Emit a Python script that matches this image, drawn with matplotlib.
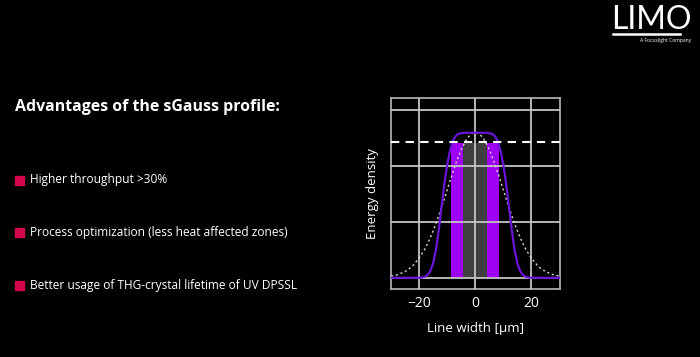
import matplotlib.pyplot as plt
from matplotlib.lines import Line2D
from matplotlib.patches import Rectangle

plt.rcParams['font.family'] = ['Open Sans', 'DejaVu Sans']

# profile data (x in um, y in grid units)
x_pos = list(range(-30, 31))
sgauss = [0, 0, 0, 0, 0, 0, 0, 0, 0, 0,
          0, 0.005, 0.02, 0.05, 0.12, 0.26, 0.50, 0.86, 1.27, 1.68,
          2.02, 2.27, 2.44, 2.53, 2.57, 2.58, 2.59, 2.59, 2.59, 2.59,
          2.59,
          2.59, 2.59, 2.59, 2.59, 2.58, 2.57, 2.53, 2.44, 2.27, 2.02,
          1.68, 1.27, 0.86, 0.50, 0.26, 0.12, 0.05, 0.02, 0.005, 0,
          0, 0, 0, 0, 0, 0, 0, 0, 0, 0]
gauss = [0.03, 0.04, 0.05, 0.07, 0.09, 0.11, 0.15, 0.18, 0.23, 0.29,
         0.35, 0.43, 0.51, 0.61, 0.72, 0.84, 0.97, 1.11, 1.26, 1.41,
         1.57, 1.73, 1.88, 2.03, 2.16, 2.29, 2.39, 2.48, 2.54, 2.58,
         2.59,
         2.58, 2.54, 2.48, 2.39, 2.29, 2.16, 2.03, 1.88, 1.73, 1.57,
         1.41, 1.26, 1.11, 0.97, 0.84, 0.72, 0.61, 0.51, 0.43, 0.35,
         0.29, 0.23, 0.18, 0.15, 0.11, 0.09, 0.07, 0.05, 0.04, 0.03]
threshold = 2.40
purple_band = (-8.7, 8.6)
gray_band = (-4.5, 4.1)
x_ticks = [-20, 0, 20]
y_grid = [0, 1, 2, 3]

bullets = ["Higher throughput >30%",
           "Process optimization (less heat affected zones)",
           "Better usage of THG-crystal lifetime of UV DPSSL"]

fig = plt.figure(figsize=(7, 3.57), dpi=100, facecolor='black')

# left text block
fig.text(15 / 700, 1 - 107 / 357, "Advantages of the sGauss profile:",
         color='white', fontsize=11.4, fontweight='bold', va='center')
for i, b in enumerate(bullets):
    yy = 1 - (180 + i * 52.5) / 357
    fig.add_artist(Rectangle((15 / 700, yy - 4.5 / 357), 9 / 700, 9 / 357,
                             transform=fig.transFigure, color='#d4064a'))
    fig.text(30 / 700, yy, b, color='white', fontsize=8.6, va='center')

# logo
fig.text(611 / 700, 1 - 20 / 357, "LIMO", color='white', fontsize=23,
         fontweight='normal', va='center', family=['Lato', 'DejaVu Sans'])
fig.add_artist(Line2D([613 / 700, 680 / 700], [1 - 34 / 357] * 2,
                      transform=fig.transFigure, color='white', lw=1.8))
fig.text(691 / 700, 1 - 40.5 / 357, "A Focuslight Company", color='white',
         fontsize=3.6, ha='right', va='center')

ax = fig.add_axes([390.5 / 700, 1 - 289 / 357, 169.5 / 700, 191 / 357])
ax.set_facecolor('black')
ax.set_xlim(-30.2, 30.2)
ax.set_ylim(-0.2, 3.21)

ax.bar((purple_band[0] + purple_band[1]) / 2, threshold,
       width=purple_band[1] - purple_band[0], color='#9d00f5', zorder=1)
ax.bar((gray_band[0] + gray_band[1]) / 2, threshold,
       width=gray_band[1] - gray_band[0], color='#3f3f3f', zorder=1.5)

ax.set_xticks(x_ticks)
ax.set_yticks(y_grid)
ax.set_yticklabels([])
ax.grid(True, color='#c4c4c4', lw=1.3, zorder=2)
ax.set_axisbelow(False)
ax.tick_params(length=0, colors='white', labelsize=10, pad=5)
for s in ax.spines.values():
    s.set_color('#aaaaaa')
    s.set_linewidth(1.3)

ax.plot(x_pos, gauss, color='#d8d8d8', lw=1.0, ls=(0, (1.5, 2)), zorder=3)
ax.plot(x_pos, sgauss, color='#6a14d8', lw=1.6, zorder=4)
ax.axhline(threshold + 0.02, color='white', lw=1.5, ls=(0, (4, 3)), zorder=5)

ax.set_xlabel("Line width [\u00b5m]", color='white', fontsize=9.5, labelpad=8)
ax.set_ylabel("Energy density", color='white', fontsize=9.5, labelpad=3)

fig.savefig("out.png", dpi=100, facecolor='black')
